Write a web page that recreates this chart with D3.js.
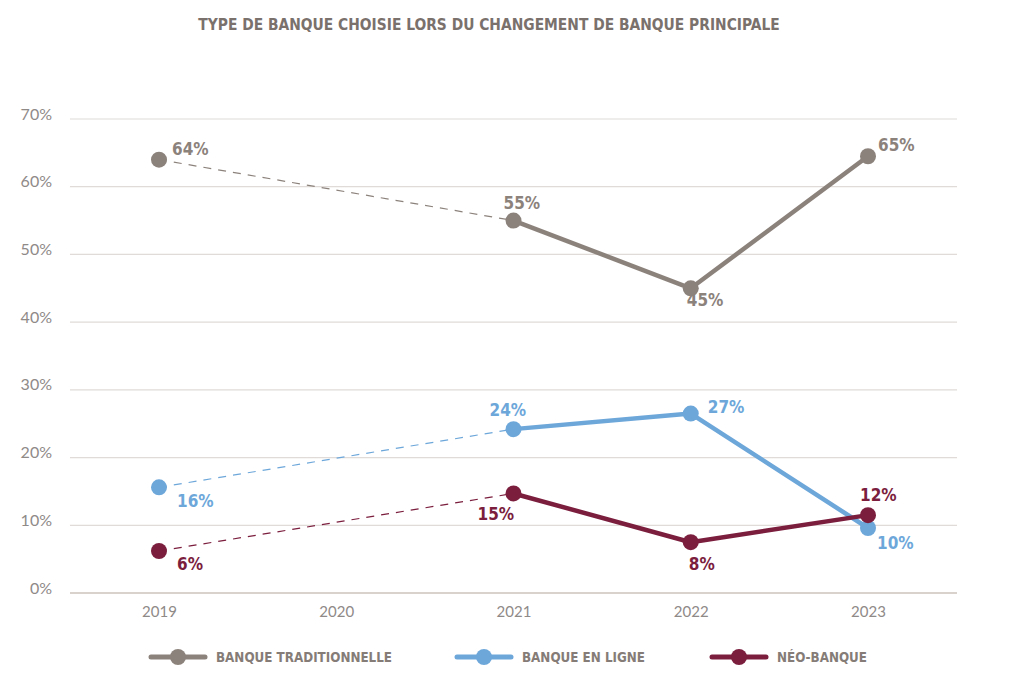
<!DOCTYPE html>
<html><head><meta charset="utf-8">
<script src="https://cdn.jsdelivr.net/npm/d3@7"></script>
<style>
body{margin:0;background:#fff;}
svg{display:block;}
</style></head>
<body><svg id="c" width="1024" height="683"></svg>
<script>
const years = ["2019","2020","2021","2022","2023"];
const yTicks = [0,10,20,30,40,50,60,70];
const seriesNames = ["BANQUE TRADITIONNELLE","BANQUE EN LIGNE","NÉO-BANQUE"];
const traditionnelle = [64, null, 55, 45, 64.5];
const enLigne = [15.6, null, 24.2, 26.5, 9.6];
const neoBanque = [6.2, null, 14.7, 7.5, 11.5];
const labelsTrad = ["64%", null, "55%", "45%", "65%"];
const labelsLigne = ["16%", null, "24%", "27%", "10%"];
const labelsNeo = ["6%", null, "15%", "8%", "12%"];
const colors = ["#8c827c","#6da7da","#7b1e3e"];

const svg = d3.select("#c");
const x = d3.scalePoint().domain(years).range([159, 868]);
const y = d3.scaleLinear().domain([0,70]).range([593,119]);
const condensed = "'DejaVu Sans Condensed','Liberation Sans Narrow',sans-serif";

svg.append("text").attr("x",489).attr("y",30).attr("text-anchor","middle")
  .attr("font-family",condensed).attr("font-weight","bold").attr("font-size",15.4)
  .attr("fill","#7a716c").text("TYPE DE BANQUE CHOISIE LORS DU CHANGEMENT DE BANQUE PRINCIPALE");

// grid
svg.append("g").selectAll("line").data(yTicks).join("line")
  .attr("x1",70).attr("x2",957).attr("y1",d=>y(d)).attr("y2",d=>y(d))
  .attr("stroke",d=>d===0?"#d9d1cc":"#e0dbd8").attr("stroke-width",d=>d===0?2:1.2);

// y axis labels
const yAxis = d3.axisLeft(y).tickValues(yTicks).tickFormat(d=>d+"%").tickSize(0).tickPadding(0);
const gy = svg.append("g").attr("transform","translate(52,-5)").call(yAxis);
gy.select(".domain").remove();
gy.selectAll("text").attr("font-family","'Lato','Open Sans',sans-serif").attr("font-size",16).attr("fill","#8f8a88");

const xAxis = d3.axisBottom(x).tickSize(0).tickPadding(0);
const gx = svg.append("g").attr("transform","translate(0,603)").call(xAxis);
gx.select(".domain").remove();
gx.selectAll("text").attr("font-family","'Lato','Open Sans',sans-serif").attr("font-size",15).attr("fill","#8f8a88").attr("dy","0.9em");

const data = [
 {vals:traditionnelle, labels:labelsTrad, c:colors[0], off:[[13,-11],null,[-10,-18],[-4,12],[10,-11]]},
 {vals:enLigne, labels:labelsLigne, c:colors[1], off:[[18,14],null,[-24,-19],[17,-7],[9,15]]},
 {vals:neoBanque, labels:labelsNeo, c:colors[2], off:[[18,13],null,[-36,21],[-2,22],[-8,-20]]}
];

data.forEach(s=>{
  const pts = years.map((yr,i)=>({yr,v:s.vals[i],l:s.labels[i],o:s.off[i]})).filter(p=>p.v!==null);
  const line = d3.line().x(p=>x(p.yr)).y(p=>y(p.v));
  svg.append("path").attr("d",line(pts.slice(0,2))).attr("fill","none")
    .attr("stroke",s.c).attr("stroke-width",1.2).attr("stroke-dasharray","8,7");
  svg.append("path").attr("d",line(pts.slice(1))).attr("fill","none")
    .attr("stroke",s.c).attr("stroke-width",4.5).attr("stroke-linejoin","round");
  svg.append("g").selectAll("circle").data(pts).join("circle")
    .attr("cx",p=>x(p.yr)).attr("cy",p=>y(p.v)).attr("r",8).attr("fill",s.c);
  svg.append("g").selectAll("text").data(pts).join("text")
    .attr("x",p=>x(p.yr)+p.o[0]).attr("y",p=>y(p.v)+p.o[1]).attr("dy","0.35em")
    .attr("font-family",condensed).attr("font-weight","bold").attr("font-size",17)
    .attr("fill",s.c).text(p=>p.l);
});

// legend
const legX = [151, 457, 712];
const lg = svg.append("g").selectAll("g").data(seriesNames).join("g")
  .attr("transform",(d,i)=>`translate(${legX[i]},657)`);
lg.append("line").attr("x1",0).attr("x2",54).attr("stroke",(d,i)=>colors[i]).attr("stroke-width",5).attr("stroke-linecap","round");
lg.append("circle").attr("cx",27).attr("r",8).attr("fill",(d,i)=>colors[i]);
lg.append("text").attr("x",65).attr("dy","0.35em").attr("font-family",condensed).attr("font-weight","bold")
  .attr("font-size",13.3).attr("fill","#857c77").text(d=>d);
</script></body></html>
